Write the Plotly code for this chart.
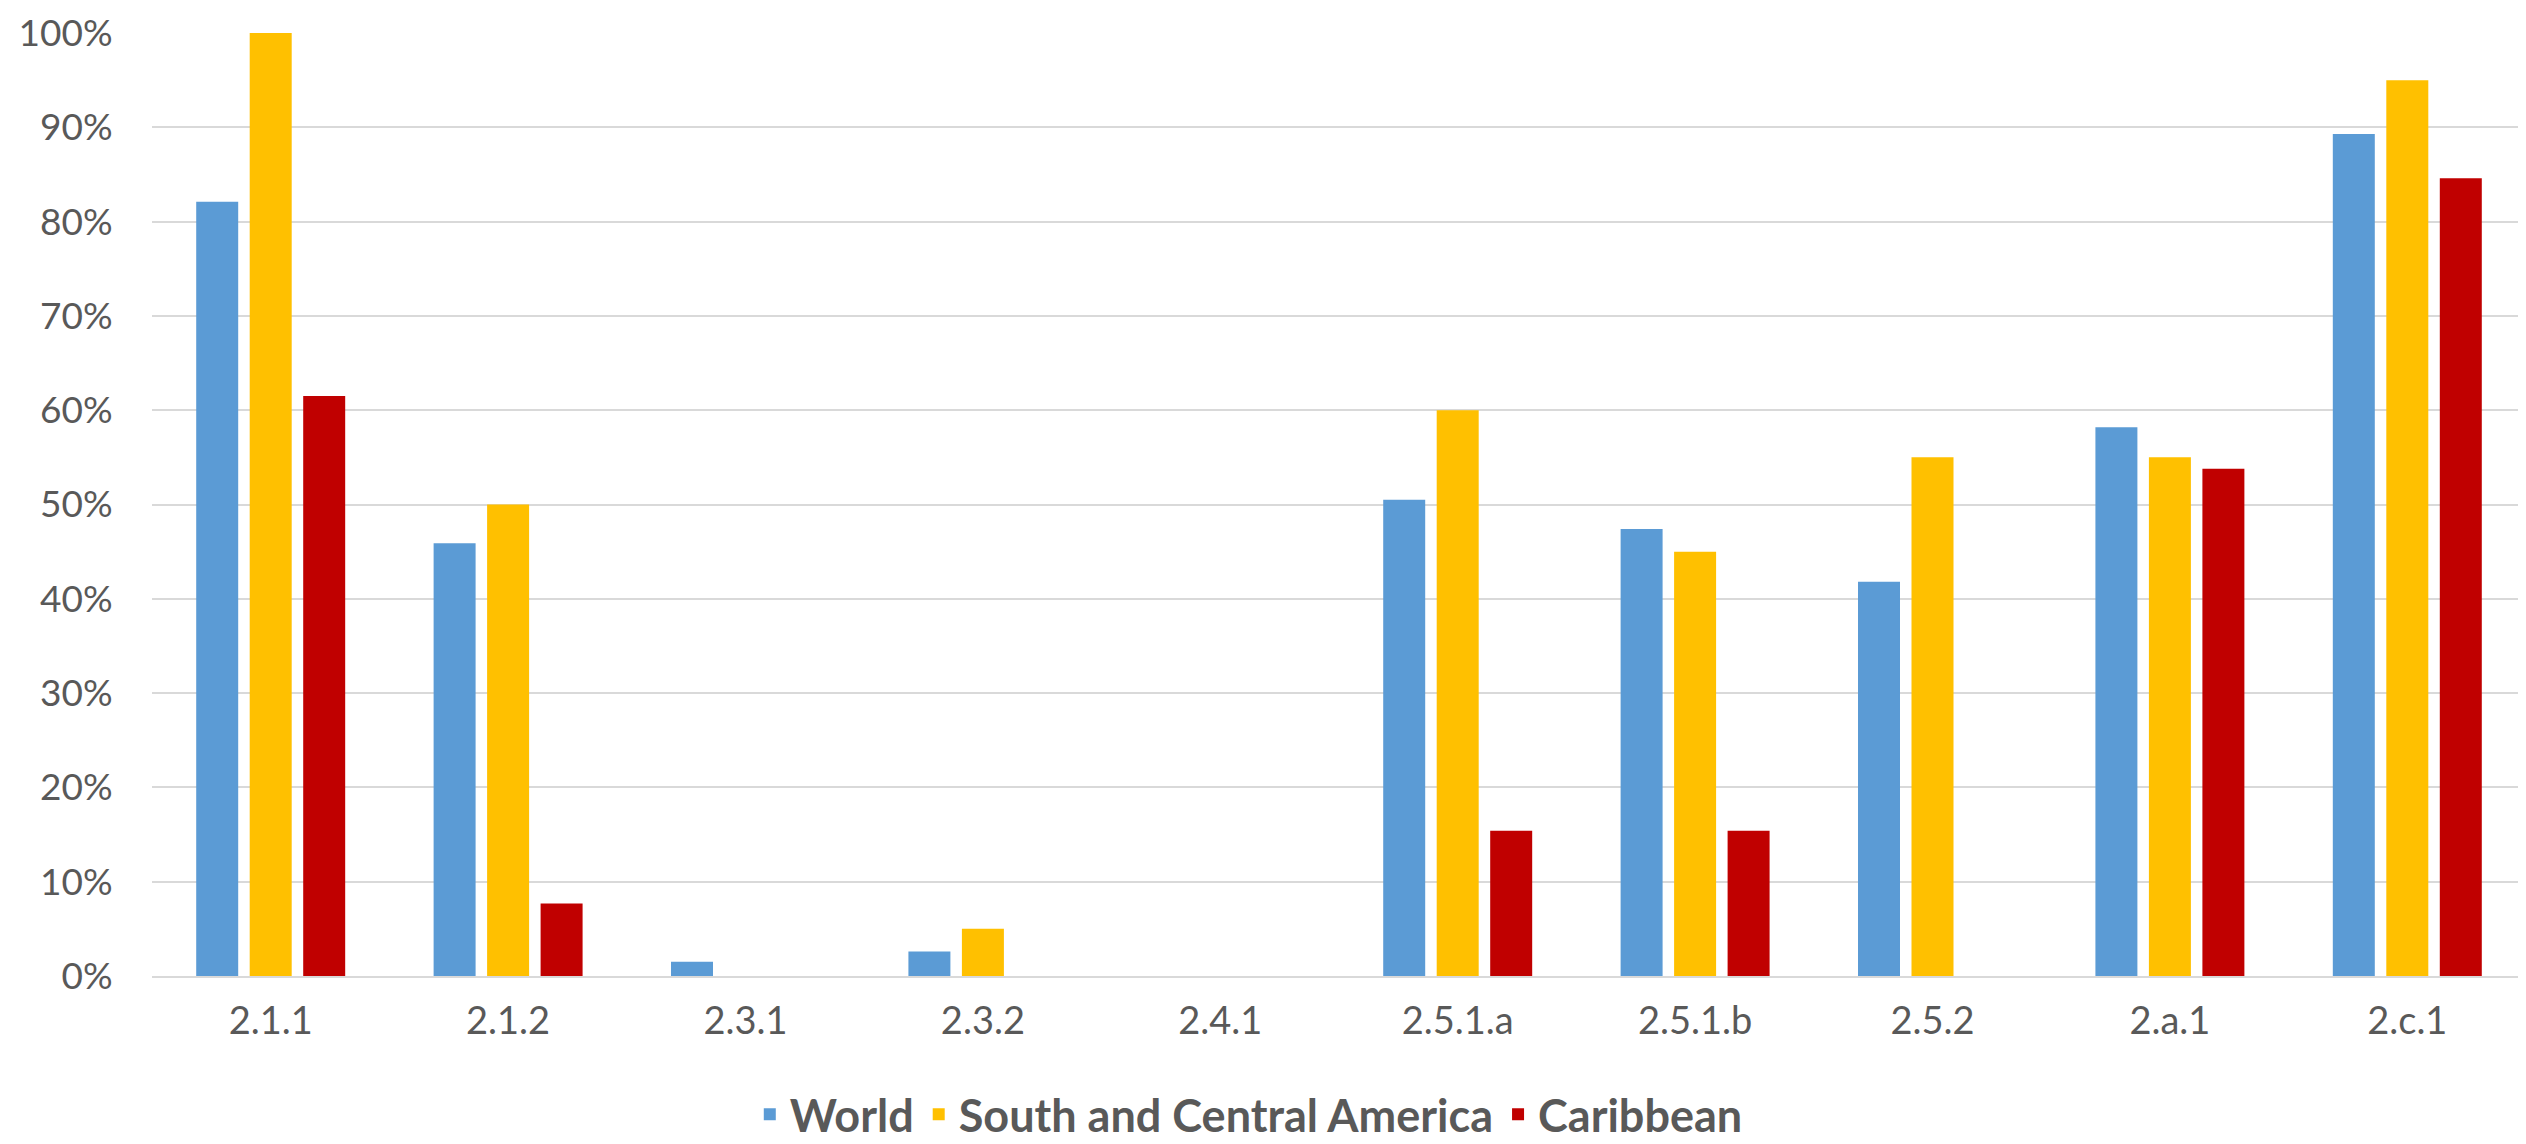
import plotly.graph_objects as go

categories = ["2.1.1", "2.1.2", "2.3.1", "2.3.2", "2.4.1", "2.5.1.a", "2.5.1.b", "2.5.2", "2.a.1", "2.c.1"]
world = [0.821, 0.459, 0.015, 0.026, 0.0, 0.505, 0.474, 0.418, 0.582, 0.893]
south_central_america = [1.00, 0.50, 0.0, 0.05, 0.0, 0.60, 0.45, 0.55, 0.55, 0.95]
caribbean = [0.615, 0.077, 0.0, 0.0, 0.0, 0.154, 0.154, 0.0, 0.538, 0.846]

series_names = ["World", "South and Central America", "Caribbean"]
colors = ["#5B9BD5", "#FFC000", "#C00000"]

fig = go.Figure()
for name, vals, col in zip(series_names, [world, south_central_america, caribbean], colors):
    fig.add_trace(go.Bar(x=categories, y=vals, name=name, marker_color=col,
                         marker_line_width=0))

text_col = "#595959"
fig.update_layout(
    width=2518, height=1136,
    paper_bgcolor="white", plot_bgcolor="white",
    margin=dict(l=144, r=0, t=25, b=168, autoexpand=False),
    barmode="group", bargap=0.324, bargroupgap=0.215,
    font=dict(family="Lato, 'Open Sans', sans-serif", color=text_col, size=38),
    legend=dict(orientation="h", x=0.462, xanchor="center",
                y=-0.147, yanchor="middle",
                font=dict(size=45, color=text_col, family="Lato, sans-serif", weight="bold"),
                traceorder="normal", tracegroupgap=0),
    showlegend=True,
)
fig.update_yaxes(range=[0, 1], dtick=0.1, tickformat=".0%", showgrid=True,
                 gridcolor="#D9D9D9", gridwidth=2, zeroline=False, showline=False,
                 ticks="outside", ticklen=31, tickcolor="rgba(0,0,0,0)",
                 ticklabeloverflow="allow",
                 tickfont=dict(size=37, color=text_col))
fig.update_xaxes(showline=True, linecolor="#D9D9D9", linewidth=2, showgrid=False,
                 ticks="outside", ticklen=10, tickcolor="rgba(0,0,0,0)", tickangle=0,
                 tickfont=dict(size=38, color=text_col))

fig.write_html("out.html")
